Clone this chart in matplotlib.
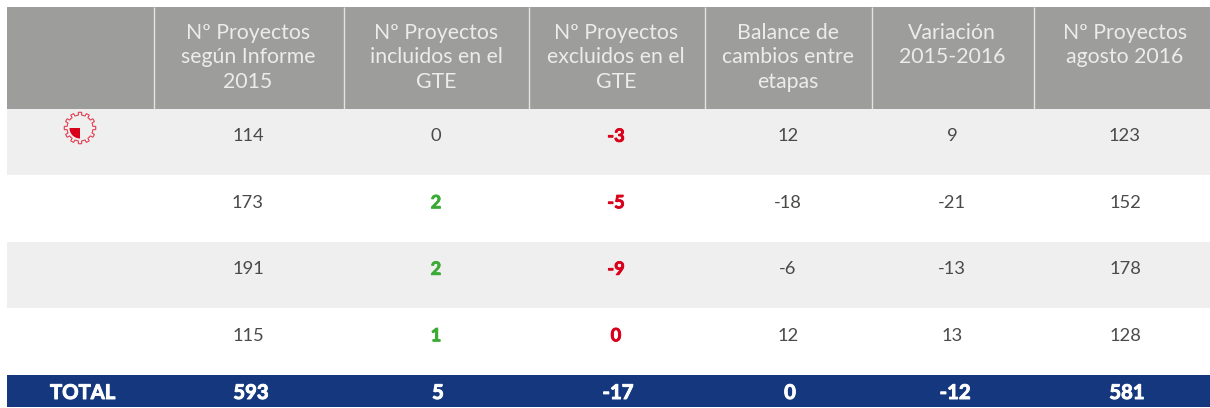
import numpy as np
import matplotlib
matplotlib.use("Agg")
import matplotlib.pyplot as plt
import matplotlib.patheffects as pe
from matplotlib.patches import Rectangle, Polygon, Wedge

headers = ["Nº Proyectos\nsegún Informe\n2015", "Nº Proyectos\nincluidos en el\nGTE",
           "Nº Proyectos\nexcluidos en el\nGTE", "Balance de\ncambios entre\netapas",
           "Variación\n2015-2016", "Nº Proyectos\nagosto 2016"]
row1 = ["114", "0", "-3", "12", "9", "123"]
row2 = ["173", "2", "-5", "-18", "-21", "152"]
row3 = ["191", "2", "-9", "-6", "-13", "178"]
row4 = ["115", "1", "0", "12", "13", "128"]
rows = [row1, row2, row3, row4]
total_label = "TOTAL"
totals = ["593", "5", "-17", "0", "-12", "581"]

col_edges = [6.5, 153.5, 343.5, 528.5, 704.5, 872, 1034, 1210]
row_edges = [108.5, 175, 241.5, 308, 374.5]
centers = [248, 436, 616, 788, 952, 1125]
total_centers = [251, 438, 618, 790, 955, 1127]

GREY = "#9d9d9c"
BAND = "#efefef"
NAVY = "#14377d"
RED = "#d9001b"
GREEN = "#3aaa35"
TXT = "#4a4a49"

fig = plt.figure(figsize=(12.10, 4.08), dpi=100)
ax = fig.add_axes([0, 0, 1, 1])
ax.set_xlim(0, 1210)
ax.set_ylim(408, 0)
ax.axis("off")

# header
ax.add_patch(Rectangle((col_edges[0], 7), col_edges[-1] - col_edges[0], 101.5, fc=GREY, ec="none"))
for x in col_edges[1:-1]:
    ax.plot([x, x], [7, 108.5], color="#e4e4e3", lw=1.0, solid_capstyle="butt")
for c, h in zip(centers, headers):
    ax.text(c, 23, h, color="#ececec", fontsize=15.3, family="Lato",
            ha="center", va="top", linespacing=1.28)

# bands
for i in (0, 2):
    ax.add_patch(Rectangle((col_edges[0], row_edges[i]), col_edges[-1] - col_edges[0],
                           row_edges[i + 1] - row_edges[i], fc=BAND, ec="none"))

# body values
for r, vals in enumerate(rows):
    y = row_edges[r] + 27.8
    for j, (c, v) in enumerate(zip(centers, vals)):
        bold = j in (1, 2) and not (j == 1 and v == "0")
        color = TXT
        if bold:
            color = GREEN if j == 1 else RED
        t = ax.text(c, y, v, color=color, fontsize=13.2, family="Lato",
                    weight="bold" if bold else "normal", ha="center", va="center")
        if bold:
            t.set_path_effects([pe.withStroke(linewidth=0.6, foreground=color)])

# total bar
ax.add_patch(Rectangle((col_edges[0], 374.5), col_edges[-1] - col_edges[0], 32, fc=NAVY, ec="none"))
t = ax.text(82.5, 393, total_label, color="white", fontsize=14.6, family="Lato", weight="bold",
            ha="center", va="center")
t.set_path_effects([pe.withStroke(linewidth=0.7, foreground="white")])
for c, v in zip(total_centers, totals):
    t = ax.text(c, 393, v, color="white", fontsize=14.6, family="Lato", weight="bold",
                ha="center", va="center")
    t.set_path_effects([pe.withStroke(linewidth=0.7, foreground="white")])

# gear icon
cx, cy = 80, 128
n = 12
pts = []
for k in range(n):
    a0 = 2 * np.pi * k / n - np.pi / 2
    w = 2 * np.pi / n
    for f, rad in [(-0.5, 13.0), (-0.24, 13.0), (-0.2, 15.8), (0.2, 15.8), (0.24, 13.0)]:
        a = a0 + f * w
        pts.append((cx + rad * np.cos(a), cy + rad * np.sin(a)))
ax.add_patch(Polygon(pts, closed=True, fc="none", ec="#e2404f", lw=0.8))
ax.add_patch(Wedge((80, 128), 10.5, 90, 180, fc=RED, ec="none"))

fig.savefig("out.png", dpi=100, facecolor="white")
